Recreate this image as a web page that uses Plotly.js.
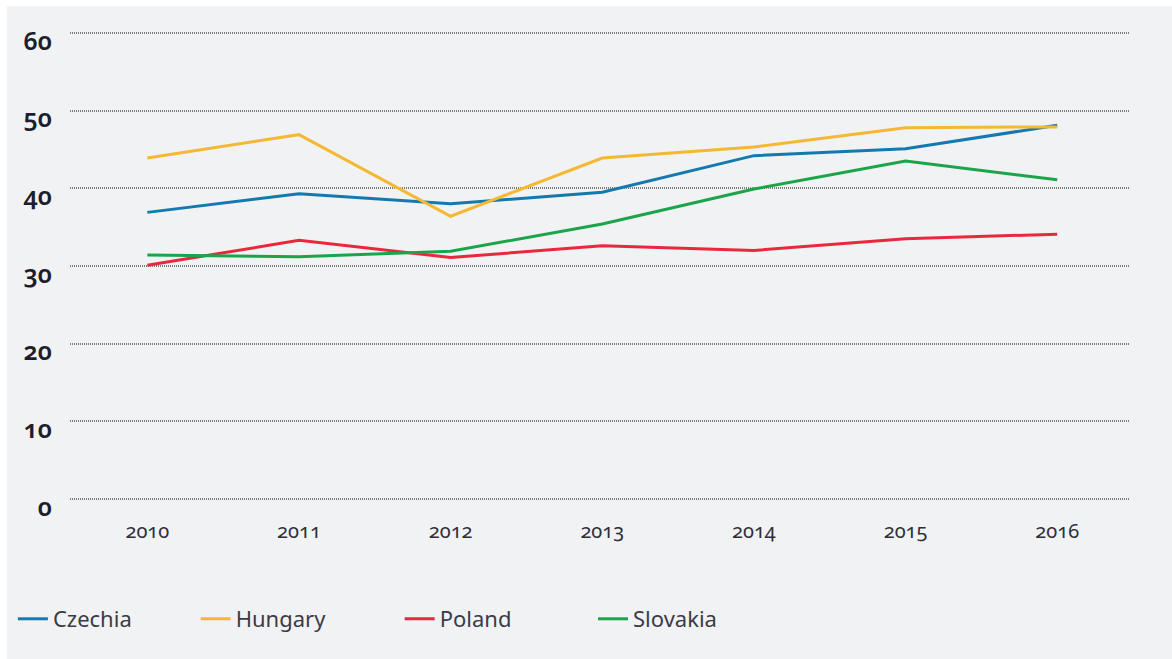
<!DOCTYPE html>
<html>
<head>
<meta charset="utf-8">
<script src="https://cdn.plot.ly/plotly-3.0.1.min.js"></script>
<style>
  html, body { margin: 0; padding: 0; background: #ffffff; }
  #chart { width: 1172px; height: 659px; }
  .ytick text, .xtick text { font-feature-settings: "onum" 1; font-variant-numeric: oldstyle-nums; }
</style>
</head>
<body>
<div id="chart"></div>
<script>
const years = [2010, 2011, 2012, 2013, 2014, 2015, 2016];
const czechia  = [36.9, 39.3, 38.0, 39.5, 44.2, 45.1, 48.1];
const hungary  = [43.9, 46.9, 36.4, 43.9, 45.3, 47.8, 47.9];
const poland   = [30.1, 33.3, 31.1, 32.6, 32.0, 33.5, 34.1];
const slovakia = [31.4, 31.2, 31.9, 35.4, 39.9, 43.5, 41.1];
const seriesNames = ['Czechia', 'Hungary', 'Poland', 'Slovakia'];
const yTicks = [0, 10, 20, 30, 40, 50, 60];

const colors = ['#1479ae', '#f5b833', '#e8293d', '#1ba54b'];
const data = [czechia, hungary, poland, slovakia];
const legendIds = ['legend', 'legend2', 'legend3', 'legend4'];
const legendX = [0.011, 0.167, 0.341, 0.506];

const traces = data.map((vals, i) => ({
  type: 'scatter',
  mode: 'lines',
  x: years,
  y: vals,
  name: seriesNames[i],
  line: { color: colors[i], width: 3 },
  legend: legendIds[i],
  hoverinfo: 'skip'
}));

const legendBase = (x) => ({
  xref: 'container', yref: 'container',
  x: x, xanchor: 'left',
  y: 0.0607, yanchor: 'middle',
  orientation: 'h',
  bgcolor: 'rgba(0,0,0,0)',
  borderwidth: 0,
  font: { family: 'Noto Sans, sans-serif', size: 22, color: '#3b3b47' },
  itemwidth: 30
});

const layout = {
  width: 1172,
  height: 659,
  margin: { l: 70, r: 42, t: 29, b: 156, autoexpand: false },
  paper_bgcolor: '#ffffff',
  plot_bgcolor: 'rgba(0,0,0,0)',
  showlegend: true,
  shapes: [{
    type: 'rect', xref: 'paper', yref: 'paper',
    x0: -0.0594, x1: 1.05, y0: -0.33, y1: 1.048,
    fillcolor: '#f1f2f4', line: { width: 0 }, layer: 'below'
  }],
  xaxis: {
    range: [2009.49, 2016.48],
    tickvals: years,
    ticktext: years.map(String),
    showgrid: false,
    zeroline: false,
    showline: false,
    ticks: '',
    ticklabelstandoff: 14,
    tickfont: { family: 'Noto Sans, sans-serif', size: 20, color: '#2e2e38' }
  },
  yaxis: {
    range: [-0.5, 60.5],
    tickvals: yTicks,
    ticktext: yTicks.map(String),
    showgrid: true,
    gridcolor: '#7c7c7c',
    gridwidth: 2,
    griddash: '1px,1px',
    zeroline: false,
    showline: false,
    ticks: '',
    ticklabelstandoff: 17,
    ticklabelshift: 8,
    tickfont: { family: 'Noto Sans, sans-serif', size: 25, color: '#1d1d2b', weight: 600 }
  }
};
legendIds.forEach((id, i) => { layout[id] = legendBase(legendX[i]); });

Plotly.newPlot('chart', traces, layout, { displayModeBar: false, staticPlot: true });
</script>
</body>
</html>
